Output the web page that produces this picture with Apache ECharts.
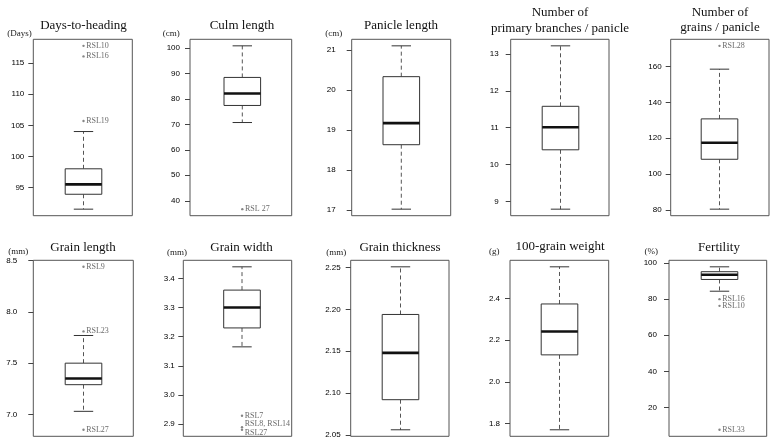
<!DOCTYPE html>
<html>
<head>
<meta charset="utf-8">
<script src="https://cdn.jsdelivr.net/npm/echarts@6/dist/echarts.min.js"></script>
<style>
html,body{margin:0;padding:0;background:#fff;}
#c{width:776px;height:444px;}
</style>
</head>
<body>
<div id="c"></div>
<script>
// ---- data ----
const titles = ['Days-to-heading', 'Culm length', 'Panicle length', 'Number of\nprimary branches / panicle', 'Number of\ngrains / panicle',
                'Grain length', 'Grain width', 'Grain thickness', '100-grain weight', 'Fertility'];
const units = ['(Days)', '(cm)', '(cm)', '', '', '(mm)', '(mm)', '(mm)', '(g)', '(%)'];
// [lower whisker, Q1, median, Q3, upper whisker]
const boxStats = [
  [91.5, 93.9, 95.5, 98.0, 104.0],
  [70.7, 77.4, 82.1, 88.4, 100.8],
  [17.02, 18.63, 19.17, 20.33, 21.1],
  [8.79, 10.40, 11.01, 11.58, 13.22],
  [80.5, 108.3, 117.5, 130.8, 158.5],
  [7.03, 7.29, 7.35, 7.50, 7.77],
  [3.165, 3.23, 3.30, 3.36, 3.44],
  [2.056, 2.092, 2.148, 2.194, 2.251],
  [1.77, 2.129, 2.241, 2.373, 2.551],
  [84.4, 90.9, 93.5, 95.2, 97.9]
];
const outlierNames = [
  ['RSL10', 'RSL16', 'RSL19'],
  ['RSL 27'],
  [],
  [],
  ['RSL28'],
  ['RSL9', 'RSL23', 'RSL27'],
  ['RSL7', 'RSL8, RSL14', 'RSL27'],
  [],
  [],
  ['RSL16', 'RSL10', 'RSL33']
];
const outlierValues = [
  [117.8, 116.1, 105.7],
  [36.7],
  [],
  [],
  [171.5],
  [8.44, 7.81, 6.85],
  [2.928, 2.889, 2.880],
  [],
  [],
  [80.0, 76.3, 7.7]
];
const tickValues = [
  [95, 100, 105, 110, 115],
  [40, 50, 60, 70, 80, 90, 100],
  [17, 18, 19, 20, 21],
  [9, 10, 11, 12, 13],
  [80, 100, 120, 140, 160],
  [7.0, 7.5, 8.0, 8.5],
  [2.9, 3.0, 3.1, 3.2, 3.3, 3.4],
  [2.05, 2.10, 2.15, 2.20, 2.25],
  [1.8, 2.0, 2.2, 2.4],
  [20, 40, 60, 80, 100]
];
const tickDecimals = [0, 0, 0, 0, 0, 1, 1, 2, 1, 0];

// ---- layout (pixels) ----
// [frameLeft, frameRight, frameTop, frameBottom, boxCenterX, labelMargin]
const layout = [
  [33.3, 132.3, 39.3, 215.7, 83.5, 9],
  [190, 291.7, 39.3, 215.7, 242.3, 10],
  [351.7, 450.7, 39.3, 215.7, 401.3, 16],
  [510.7, 609, 39.3, 215.7, 560.5, 12],
  [670.7, 769, 39.3, 215.7, 719.5, 9],
  [33.3, 133.3, 260.3, 436.3, 83.5, 16],
  [183.3, 291.7, 260.3, 436.3, 242, 8.5],
  [350.7, 449, 260.3, 436.3, 400.5, 10],
  [510, 608.7, 260.3, 436.3, 559.5, 10],
  [669, 766.7, 260.3, 436.3, 719.5, 12]
];
const titlePos = [
  [83.5, 26], [242, 26], [401, 26], [560, 13], [720, 12.5],
  [83, 247.5], [241.5, 247.5], [400, 247.5], [560, 247], [719, 247.5]
];
const unitPos = [
  [19.5, 33.7], [171.3, 33.3], [333.7, 33.3], null, null,
  [18.3, 252], [177, 252.3], [336.3, 252.5], [494.2, 252], [651.3, 252]
];
const labelOffsets = {6: {1: [0, -3], 2: [0, 3]}};

const SERIF = '"Liberation Serif", "Times New Roman", serif';
const SANS = '"Liberation Sans", Arial, sans-serif';

const grids = [], xAxes = [], yAxes = [], series = [], graphics = [];

for (let i = 0; i < 10; i++) {
  const [L, R, T, B, C, margin] = layout[i];
  const st = boxStats[i];
  const ov = outlierValues[i];
  const lo = Math.min(st[0], ...ov);
  const hi = Math.max(st[4], ...ov);
  const pad = (hi - lo) * 0.04;
  grids.push({left: L, top: T, width: R - L, height: B - T, show: true,
              borderColor: '#555', borderWidth: 1, backgroundColor: 'transparent'});
  xAxes.push({type: 'value', gridIndex: i, min: L - C, max: R - C, show: false,
              axisLine: {onZero: false}});
  const dec = tickDecimals[i];
  yAxes.push({
    type: 'value', gridIndex: i, position: 'left', min: lo - pad, max: hi + pad,
    axisLine: {show: false, onZero: false},
    splitLine: {show: false},
    axisTick: {show: true, inside: false, length: 5, customValues: tickValues[i],
               lineStyle: {color: '#444', width: 1}},
    axisLabel: {show: true, customValues: tickValues[i], margin: margin,
                formatter: v => Number(v).toFixed(dec),
                fontFamily: SANS, fontSize: 8, color: '#000'}
  });
  series.push({
    type: 'custom', xAxisIndex: i, yAxisIndex: i, silent: true,
    data: [[0, st[0], st[1], st[2], st[3], st[4]]],
    renderItem: function (params, api) {
      const x = api.value(0);
      const pMin = api.coord([x, api.value(1)]);
      const pQ1 = api.coord([x, api.value(2)]);
      const pMed = api.coord([x, api.value(3)]);
      const pQ3 = api.coord([x, api.value(4)]);
      const pMax = api.coord([x, api.value(5)]);
      const cx = pMed[0];
      const half = 18.3, cap = 9.7;
      const dash = {stroke: '#555', lineWidth: 1, lineDash: [4, 3]};
      const solid = {stroke: '#333', lineWidth: 1};
      return {
        type: 'group',
        children: [
          {type: 'line', shape: {x1: cx, y1: pQ3[1], x2: cx, y2: pMax[1]}, style: dash},
          {type: 'line', shape: {x1: cx, y1: pQ1[1], x2: cx, y2: pMin[1]}, style: dash},
          {type: 'line', shape: {x1: cx - cap, y1: pMax[1], x2: cx + cap, y2: pMax[1]}, style: solid},
          {type: 'line', shape: {x1: cx - cap, y1: pMin[1], x2: cx + cap, y2: pMin[1]}, style: solid},
          {type: 'rect', shape: {x: cx - half, y: pQ3[1], width: 2 * half, height: pQ1[1] - pQ3[1]},
           style: {fill: '#fff', stroke: '#333', lineWidth: 1}},
          {type: 'line', shape: {x1: cx - half, y1: pMed[1], x2: cx + half, y2: pMed[1]},
           style: {stroke: '#111', lineWidth: 2.6}}
        ]
      };
    }
  });
  if (ov.length) {
    const offs = labelOffsets[i] || {};
    series.push({
      type: 'scatter', xAxisIndex: i, yAxisIndex: i, silent: true,
      symbol: 'circle', symbolSize: 2.4,
      itemStyle: {color: '#666'},
      data: ov.map((v, k) => ({
        value: [0, v], name: outlierNames[i][k],
        label: {offset: offs[k] || [0, 0]}
      })),
      label: {show: true, position: 'right', distance: 1.5,
              formatter: p => p.name,
              fontFamily: SERIF, fontSize: 8, color: '#444'}
    });
  }
  const tp = titlePos[i];
  const lines = titles[i].split('\n');
  lines.forEach((ln, k) => {
    graphics.push({type: 'text', x: tp[0], y: tp[1] + k * 15.5,
      style: {text: ln, font: '13px ' + SERIF, fill: '#111',
              textAlign: 'center', textVerticalAlign: 'middle'}});
  });
  if (unitPos[i]) {
    graphics.push({type: 'text', x: unitPos[i][0], y: unitPos[i][1],
      style: {text: units[i], font: '9px ' + SERIF, fill: '#222',
              textAlign: 'center', textVerticalAlign: 'middle'}});
  }
}

const chart = echarts.init(document.getElementById('c'), null, {renderer: 'canvas'});
chart.setOption({
  backgroundColor: '#fff',
  animation: false,
  grid: grids,
  xAxis: xAxes,
  yAxis: yAxes,
  series: series,
  graphic: graphics
});
</script>
</body>
</html>
